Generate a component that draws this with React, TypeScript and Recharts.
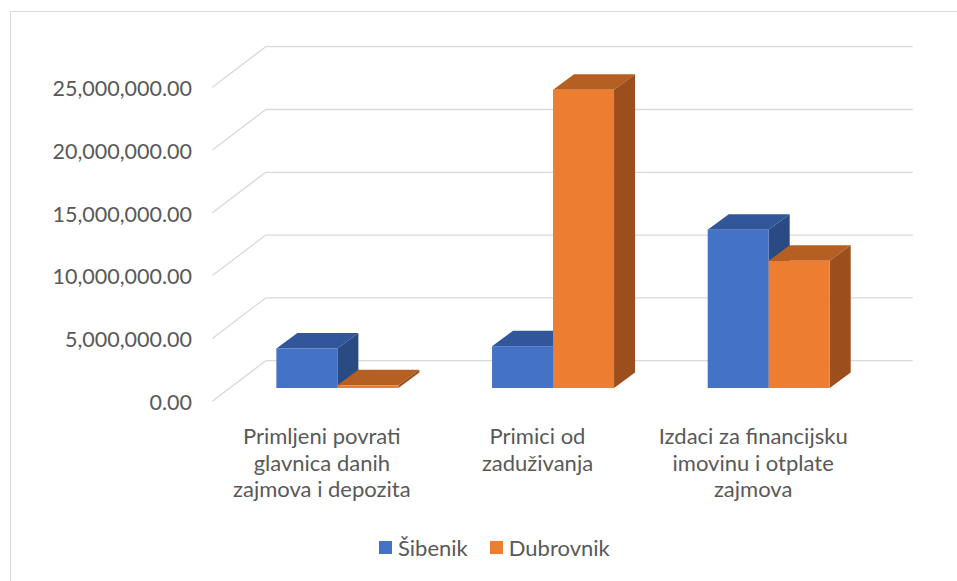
import React from 'react';
import { BarChart, Bar, XAxis, YAxis, CartesianGrid } from 'recharts';

// chart data
const categories = [
    'Primljeni povrati glavnica danih zajmova i depozita',
    'Primici od zaduživanja',
    'Izdaci za financijsku imovinu i otplate zajmova',
];
const seriesNames = ['Šibenik', 'Dubrovnik'];
const sibenik = [3150000, 3330000, 12600000];
const dubrovnik = [220000, 23750000, 10130000];
const yTicks = [0, 5000000, 10000000, 15000000, 20000000, 25000000];

// front / top / side face colours per series
const palette = [
    { front: '#4472C4', top: '#31569A', side: '#2A4A84' },
    { front: '#ED7D31', top: '#B55F22', side: '#9C4F1D' },
];

// fake 3D projection offsets
const DEPTH_X = 21;
const DEPTH_Y = 15.5;
const WALL_X = 35.7;
const WALL_Y = 27.3;
const FRONT_X = -17.6;
const FRONT_Y = 13.2;

const FONT = 'Lato, "Open Sans", sans-serif';
const TEXT = '#595959';
const GRID = '#D9D9D9';

const data = categories.map((name, i) => ({ name, sibenik: sibenik[i], dubrovnik: dubrovnik[i] }));

const wrap = (s: string, max: number) => {
    const out: string[] = [];
    let cur = '';
    s.split(' ').forEach((w) => {
        const next = cur ? cur + ' ' + w : w;
        if (next.length > max && cur) {
            out.push(cur);
            cur = w;
        } else {
            cur = next;
        }
    });
    if (cur) out.push(cur);
    return out;
};

const fmt = (v: number) =>
    v.toLocaleString('en-US', { minimumFractionDigits: 2, maximumFractionDigits: 2 });

const gridLine = (p: any) => {
    const { x1, x2, y1, key } = p;
    return (
        <g key={key}>
            <line x1={x1 + FRONT_X} y1={y1 + FRONT_Y} x2={x1 + WALL_X} y2={y1 - WALL_Y} stroke={GRID} strokeWidth={1.3} />
            <line x1={x1 + WALL_X} y1={y1 - WALL_Y} x2={x2 + WALL_X} y2={y1 - WALL_Y} stroke={GRID} strokeWidth={1.3} />
        </g>
    );
};

const Bar3D = (props: any) => {
    const { x, y, width, height, colors } = props;
    if (width == null || height == null) return null;
    const r = x + width;
    const b = y + height;
    return (
        <g>
            <polygon
                points={`${x},${y} ${r},${y} ${r + DEPTH_X},${y - DEPTH_Y} ${x + DEPTH_X},${y - DEPTH_Y}`}
                fill={colors.top}
            />
            <polygon
                points={`${r},${y} ${r + DEPTH_X},${y - DEPTH_Y} ${r + DEPTH_X},${b - DEPTH_Y} ${r},${b}`}
                fill={colors.side}
            />
            <rect x={x} y={y} width={width} height={height} fill={colors.front} />
        </g>
    );
};

const ValueTick = (props: any) => {
    const { x, y, payload } = props;
    return (
        <text x={x - 30} y={y + 22} textAnchor="end" fill={TEXT} fontSize={21.5} fontFamily={FONT}>
            {fmt(payload.value)}
        </text>
    );
};

const CategoryTick = (props: any) => {
    const { x, y, payload } = props;
    const lines = wrap(payload.value, 21);
    const cx = x - 16;
    return (
        <text x={cx} y={y + 48} textAnchor="middle" fill={TEXT} fontSize={22} fontFamily={FONT}>
            {lines.map((l, i) => (
                <tspan key={i} x={cx} dy={i === 0 ? 0 : 26.5}>
                    {l}
                </tspan>
            ))}
        </text>
    );
};

export default function App() {
    return (
        <div style={{ position: 'absolute', left: 0, top: 0, width: 957, height: 581, overflow: 'hidden', background: '#fff' }}>
            <div
                style={{
                    position: 'absolute',
                    left: 10,
                    top: 11,
                    width: 1000,
                    height: 700,
                    border: `1px solid ${GRID}`,
                }}
            />
            <div style={{ position: 'absolute', left: 0, top: 0 }}>
                <BarChart
                    width={957}
                    height={581}
                    data={data}
                    margin={{ top: 74, right: 80, bottom: 163, left: 30 }}
                    barGap={0}
                    barCategoryGap="21.5%"
                >
                    <CartesianGrid vertical={false} horizontal={gridLine} />
                    <XAxis dataKey="name" axisLine={false} tickLine={false} height={30} tick={<CategoryTick />} interval={0} />
                    <YAxis
                        domain={[0, 25000000]}
                        ticks={yTicks}
                        width={200}
                        axisLine={false}
                        tickLine={false}
                        tick={<ValueTick />}
                    />
                    {['sibenik', 'dubrovnik'].map((k, i) => (
                        <Bar
                            key={k}
                            dataKey={k}
                            name={seriesNames[i]}
                            fill={palette[i].front}
                            isAnimationActive={false}
                            shape={(p: any) => <Bar3D {...p} colors={palette[i]} />}
                        />
                    ))}
                </BarChart>
            </div>
            <div
                style={{
                    position: 'absolute',
                    left: 379,
                    top: 534,
                    display: 'flex',
                    alignItems: 'center',
                    fontFamily: FONT,
                    fontSize: 22,
                    color: TEXT,
                }}
            >
                {seriesNames.map((n, i) => (
                    <div key={n} style={{ display: 'flex', alignItems: 'center', marginRight: 22 }}>
                        <span style={{ width: 13, height: 13, background: palette[i].front, marginRight: 6, display: 'inline-block' }} />
                        <span>{n}</span>
                    </div>
                ))}
            </div>
        </div>
    );
}
